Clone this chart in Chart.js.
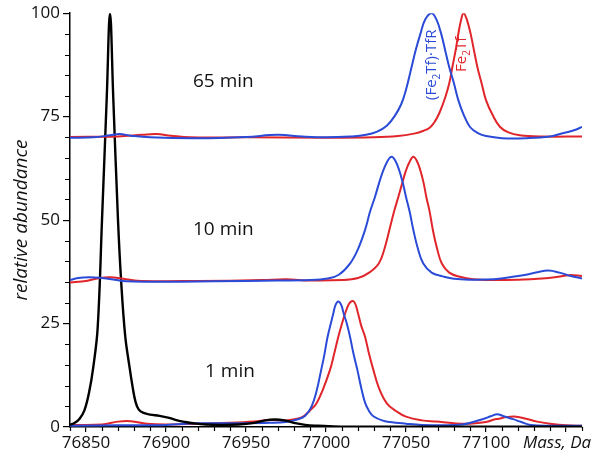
<!DOCTYPE html>
<html>
<head>
<meta charset="utf-8">
<script src="https://cdn.jsdelivr.net/npm/chart.js@4/dist/chart.umd.min.js"></script>
<style>
  html, body { margin: 0; padding: 0; background: #fff; }
  #wrap { width: 600px; height: 462px; }
</style>
</head>
<body>
<div id="wrap"><canvas id="msCanvas"></canvas></div>
<script>
// Axis ticks
const xTicks = [76850, 76900, 76950, 77000, 77050, 77100, 77150];
const yTicks = [0, 25, 50, 75, 100];

// Black trace (1 min, low-mass species)  [mass, abundance]
const black = [
  [76840, 0.5], [76843, 1], [76846, 2], [76849, 4], [76852, 8.5], [76854.6, 14.6],
  [76857.3, 24], [76860, 50], [76863, 80], [76865, 100], [76867, 80], [76870, 50],
  [76872, 35], [76874.5, 22], [76877, 15], [76879, 10], [76881, 6], [76883, 4.2],
  [76886, 3.4], [76890, 3.0], [76896, 2.7], [76902, 2.2], [76907, 1.6], [76912, 1.2],
  [76917, 0.9], [76925, 0.6], [76935, 0.5], [76945, 0.6], [76955, 1.0], [76962, 1.6],
  [76968, 1.8], [76974, 1.6], [76980, 1.0], [76987, 0.5], [76995, 0.3], [77010, 0.1],
  [77160, 0.1]
];

// 1 min
const red1 = [
  [76840, 0.5], [76860, 0.6], [76870, 1.3], [76878, 1.4], [76888, 0.8], [76900, 0.6],
  [76920, 0.8], [76940, 1.0], [76955, 1.3], [76965, 1.7], [76975, 1.6], [76982, 2.0],
  [76986, 2.6], [76990, 4], [76994, 5.7], [76998, 9], [77002.5, 13.8], [77005, 17.5],
  [77007.7, 21.8], [77010, 25], [77012, 27.5], [77014, 29.5], [77016, 30.4], [77018, 30],
  [77020, 27.5], [77022, 24.5], [77024.4, 21.8], [77027, 17.5], [77029.6, 13.8], [77033, 9.5],
  [77038, 5.7], [77044, 3.8], [77050, 2.5], [77060, 1.6], [77069, 1.3], [77080, 0.9],
  [77090, 0.8], [77100, 1.2], [77105, 1.8], [77108, 2.0], [77113, 2.4], [77119, 2.5],
  [77125, 2.0], [77132, 1.3], [77140, 0.8], [77150, 0.4], [77160, 0.3]
];
const blue1 = [
  [76840, 0.3], [76870, 0.4], [76900, 0.5], [76920, 0.9], [76945, 0.9], [76965, 1.0],
  [76975, 1.2], [76982, 1.8], [76987, 2.7], [76991, 5.0], [76994, 8.5], [76997, 13.8],
  [76999, 17.5], [77001, 21.8], [77003, 25], [77004.6, 27.5], [77006, 29.5], [77007.7, 30.3],
  [77009.5, 29.5], [77011, 27.5], [77013, 25], [77015, 21.8], [77017.3, 17.5], [77019.6, 13.8],
  [77022, 9.5], [77024.4, 5.9], [77027, 3.8], [77029.6, 2.6], [77035, 1.6], [77040, 1.2],
  [77050, 0.8], [77060, 0.5], [77075, 0.4], [77085, 0.6], [77092, 1.2], [77098, 1.9],
  [77103, 2.6], [77107, 3.1], [77111, 2.6], [77117, 1.9], [77122, 1.2], [77128, 0.5],
  [77140, 0.3], [77160, 0.3]
];

// 10 min
const red10 = [
  [76840, 34.9], [76850, 35.3], [76857, 35.9], [76865, 36.2], [76875, 35.7], [76885, 35.3],
  [76920, 35.3], [76960, 35.5], [76975, 35.7], [76990, 35.4], [77010, 35.5], [77020, 36.0],
  [77027, 37.3], [77033, 39.5], [77036.5, 43], [77039.6, 47.6], [77042.5, 52], [77045.2, 55.6],
  [77047.7, 59], [77050, 62], [77052.5, 64.3], [77054.6, 65.3], [77056.8, 64.3], [77059, 62],
  [77061, 59], [77062.7, 55.6], [77064.8, 52], [77066.8, 47.6], [77069.5, 43], [77072.4, 39.5],
  [77077, 37.3], [77083.6, 36.3], [77092, 35.7], [77105, 35.5], [77120, 35.6], [77135, 35.9],
  [77145, 36.3], [77152, 36.7], [77160, 36.5]
];
const blue10 = [
  [76840, 35.5], [76845, 36.0], [76852, 36.2], [76860, 36.0], [76868, 35.6], [76875, 35.2],
  [76890, 35.1], [76930, 35.2], [76970, 35.4], [76990, 35.5], [77001, 35.9], [77008, 36.8],
  [77015, 39.5], [77020, 43], [77024.4, 47.6], [77027.5, 52], [77030.6, 55.6], [77033.2, 59],
  [77035.8, 62], [77038.5, 64.3], [77041, 65.3], [77043.4, 64.3], [77045.8, 62], [77048, 59],
  [77050, 55.6], [77052.3, 52], [77054.6, 47.6], [77057.5, 43], [77060.8, 39.5], [77066, 37.3],
  [77073, 36.4], [77080, 35.8], [77090, 35.6], [77105, 35.7], [77115, 36.2], [77125, 36.8],
  [77132, 37.4], [77139, 37.8], [77146, 37.3], [77153, 36.5], [77160, 35.9]
];

// 65 min
const red65 = [
  [76840, 70.1], [76870, 70.2], [76885, 70.6], [76894, 70.8], [76903, 70.4], [76915, 70.0],
  [76950, 70.0], [77000, 69.9], [77030, 70.0], [77045, 70.3], [77055, 70.9], [77061, 71.6],
  [77065, 72.4], [77068, 73.8], [77071, 76], [77074.4, 79.5], [77077, 83], [77079, 87],
  [77081, 91], [77082.7, 95], [77084.5, 98.5], [77086, 100], [77088, 98.5], [77090.4, 95],
  [77092.5, 91], [77094.6, 87], [77097.3, 83], [77100, 79], [77104, 75.5], [77108.8, 72.5],
  [77114, 71.2], [77121, 70.5], [77135, 70.2], [77160, 70.2]
];
const blue65 = [
  [76840, 69.9], [76855, 70.0], [76865, 70.5], [76871, 70.8], [76878, 70.4], [76890, 70.0],
  [76920, 69.8], [76950, 70.1], [76970, 70.6], [76985, 70.2], [77000, 70.0], [77015, 70.2],
  [77025, 70.6], [77032, 71.4], [77038, 72.8], [77043, 75.2], [77047, 78], [77050, 81.5],
  [77053.5, 87], [77056, 91], [77059, 95], [77062, 98.5], [77066, 100], [77069, 98.5],
  [77072, 95], [77074.5, 91], [77077, 87], [77080, 83], [77082.7, 79], [77086, 75.5],
  [77090, 72.5], [77095, 71], [77100, 70.3], [77110, 69.8], [77125, 69.8], [77140, 70.2],
  [77148, 71], [77155, 71.7], [77160, 72.5]
];

const BLUE = '#2a4bd7';
const RED  = '#e0262b';
const FONT = "'Open Sans', sans-serif";

const toPts = arr => arr.map(([x, y]) => ({ x, y }));

function trace(arr, color, width = 2) {
  return {
    data: toPts(arr),
    borderColor: color,
    borderWidth: width,
    pointRadius: 0,
    fill: false,
    tension: 0.4,
  };
}

/* ── Minor ticks, labels and annotations ─────────── */
const extrasPlugin = {
  id: 'msExtras',
  afterDraw: (chart) => {
    const { ctx, chartArea: a, scales: { x, y } } = chart;
    ctx.save();
    ctx.strokeStyle = '#000';
    ctx.lineWidth = 1.2;
    ctx.beginPath();
    for (let v = 76840; v <= 77160; v += 10) {
      if (v % 50 === 0) continue;
      const px = Math.round(x.getPixelForValue(v)) + 0.5;
      ctx.moveTo(px, a.bottom);
      ctx.lineTo(px, a.bottom + 4);
    }
    for (let v = 0; v <= 100; v += 5) {
      if (v % 25 === 0) continue;
      const py = Math.round(y.getPixelForValue(v)) + 0.5;
      ctx.moveTo(a.left, py);
      ctx.lineTo(a.left - 5, py);
    }
    ctx.stroke();

    // time labels
    ctx.fillStyle = '#111';
    ctx.font = `19px ${FONT}`;
    ctx.textAlign = 'left';
    ctx.textBaseline = 'alphabetic';
    ctx.fillText('65 min', 193, 87);
    ctx.fillText('10 min', 193, 235);
    ctx.fillText('1 min', 205, 377);

    // axis titles
    ctx.font = `italic 17px ${FONT}`;
    ctx.fillText('Mass, Da', 523, 448);

    ctx.save();
    ctx.translate(27, 220);
    ctx.rotate(-Math.PI / 2);
    ctx.font = `italic 19px ${FONT}`;
    ctx.textAlign = 'center';
    ctx.fillText('relative abundance', 0, 0);
    ctx.restore();

    // rotated species labels with subscripts
    const drawRot = (parts, bx, by, color) => {
      ctx.save();
      ctx.translate(bx, by);
      ctx.rotate(-Math.PI / 2);
      ctx.fillStyle = color;
      ctx.textAlign = 'left';
      let cx = 0;
      parts.forEach(([t, sub]) => {
        ctx.font = sub ? `10px ${FONT}` : `15px ${FONT}`;
        ctx.fillText(t, cx, sub ? 4 : 0);
        cx += ctx.measureText(t).width;
      });
      ctx.restore();
    };
    drawRot([['(Fe'], ['2', true], ['Tf)·TfR']], 436, 100, BLUE);
    drawRot([['Fe'], ['2', true], ['Tf']], 466, 72, RED);

    ctx.restore();
  },
};

new Chart(document.getElementById('msCanvas'), {
  type: 'line',
  plugins: [extrasPlugin],
  data: {
    datasets: [
      trace(blue65, BLUE), trace(red65, RED),
      trace(blue10, BLUE), trace(red10, RED),
      trace(black, '#000', 2.4),
      trace(blue1, BLUE), trace(red1, RED),
    ],
  },
  options: {
    responsive: true,
    maintainAspectRatio: false,
    animation: false,
    devicePixelRatio: 1,
    layout: { padding: { top: 13, right: 18, left: 0, bottom: 0 } },
    plugins: { legend: { display: false }, tooltip: { enabled: false } },
    scales: {
      x: {
        type: 'linear',
        min: 76840, max: 77160,
        afterBuildTicks: s => { s.ticks = xTicks.map(v => ({ value: v })); },
        afterFit: s => { s.height = 35; },
        border: { color: '#000', width: 1.5 },
        grid: { drawOnChartArea: false, color: '#000', lineWidth: 1.2, tickLength: 5 },
        ticks: {
          color: '#111', padding: 1,
          font: { family: FONT, size: 17 },
          maxRotation: 0, autoSkip: false,
          callback: v => (v <= 77100 ? String(v) : ''),
        },
      },
      y: {
        min: 0, max: 100,
        afterBuildTicks: s => { s.ticks = yTicks.map(v => ({ value: v })); },
        afterFit: s => { s.width = 70; },
        border: { color: '#000', width: 1.5 },
        grid: { drawOnChartArea: false, color: '#000', lineWidth: 1.2, tickLength: 7 },
        ticks: {
          color: '#111', padding: 3,
          font: { family: FONT, size: 17 },
          callback: v => String(v),
        },
      },
    },
  },
});
</script>
</body>
</html>
